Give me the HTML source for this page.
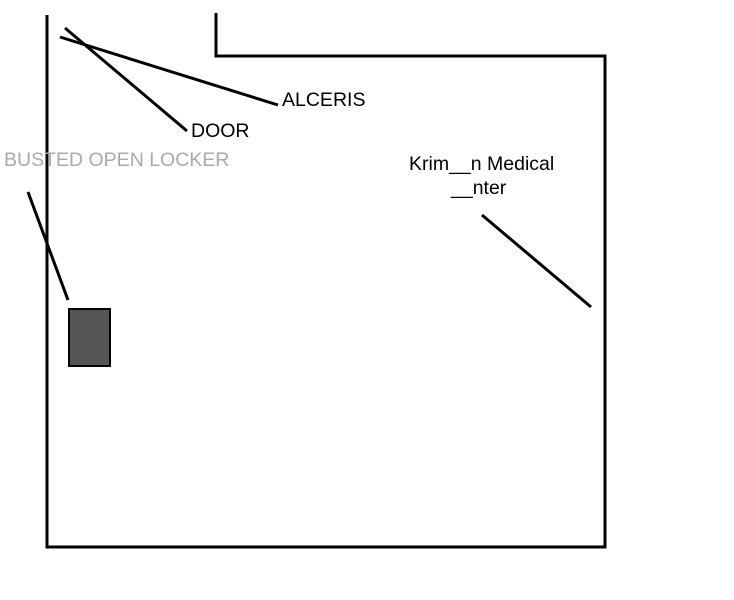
<!DOCTYPE html>
<html><head><style>html,body{margin:0;padding:0;background:#fff}</style></head>
<body>
<svg width="734" height="595" xmlns="http://www.w3.org/2000/svg">
<g stroke="#000" stroke-width="3" fill="none">
<polyline points="47,15 47,547 605,547 605,56 216,56 216,13"/>
<line x1="65" y1="28" x2="187" y2="131"/>
<line x1="60" y1="37" x2="278" y2="105"/>
<line x1="28" y1="192" x2="68" y2="300"/>
<line x1="482" y1="215" x2="591" y2="307"/>
</g>
<rect x="69" y="309" width="41" height="57" fill="#555" stroke="#000" stroke-width="2"/>
<g font-family="Liberation Sans, sans-serif" font-size="19.5">
<text x="282" y="106">ALCERIS</text>
<text x="191" y="137">DOOR</text>
<text x="4" y="166" fill="#aaa">BUSTED OPEN LOCKER</text>
<text x="409" y="170">Krim__n Medical</text>
<text x="451" y="194">__nter</text>
</g>
</svg>
</body></html>
